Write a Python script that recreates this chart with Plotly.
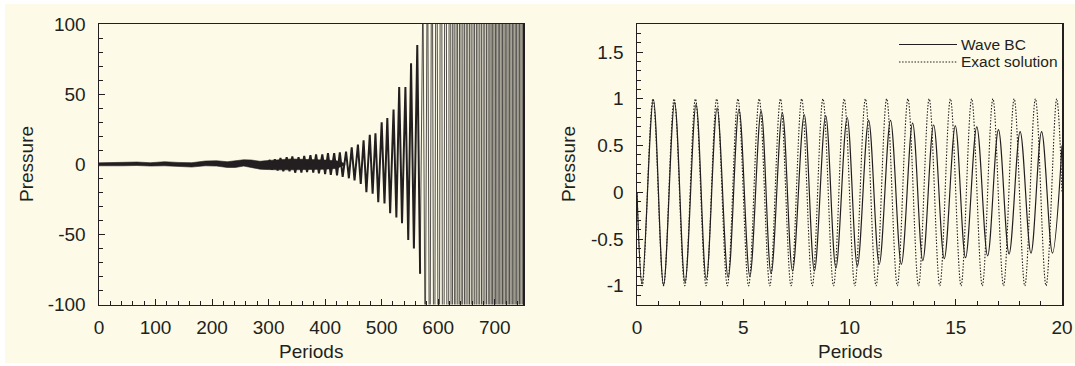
import plotly.graph_objects as go

INK = "#231f20"
CREAM = "#fdfbe8"
FONT = "Liberation Sans, Arial, Helvetica, sans-serif"
W, H = 1075, 366

# ---------------- Left panel: unstable boundary condition ----------------
# dark core band of the fast oscillation (upper / lower envelope)
band_periods = [0, 43, 67, 91, 116, 140, 164, 188, 208, 227, 241, 256, 270, 285, 294, 304,
                320, 340, 360, 380, 400, 420, 435]
band_upper = [1.0, 1.1, 1.6, 1.1, 1.8, 1.3, 1.1, 2.3, 2.5, 1.8, 2.5, 3.2, 3.0, 2.1, 2.5, 2.8,
              3.5, 3.8, 3.5, 3.5, 3.0, 2.5, 0.5]
band_lower = [-1.1, -1.1, -0.9, -1.3, -1.1, -1.6, -2.0, -1.1, -1.3, -2.3, -2.3, -1.3, -2.3, -3.5, -3.7, -3.5,
              -4.0, -4.0, -3.8, -3.8, -3.5, -3.0, -0.5]

# visible growing spikes
spike_periods = [298, 302, 306, 311, 316, 321, 326, 332, 337, 342, 347, 353, 358, 363, 368, 374, 379,
                 384, 389, 395, 400, 405, 410, 416, 421, 426, 431, 437, 442, 447, 452, 458, 463,
                 468, 473, 479, 484, 489, 494, 500, 505, 510, 515, 521, 526, 531, 536, 542, 547,
                 552, 557, 563, 568]
spike_values = [0, 3, -4, 3.5, -4.5, 4.5, -5, 5, -5, 5.5, -6, 5, -6, 6, -5.5, 6.5, -6,
                7, -6.5, 7, -7, 8, -7.5, 8, -8, 8.5, -9, 9, -10, 12, -11.5, 14, -14,
                17, -20, 21, -21, 22, -27, 30, -28, 33, -35, 39, -38, 55, -42, 55, -54,
                72, -60, 85, -78]

# blow-up region (values exceed the axis range and are clipped)
blowup_periods = [568, 573, 577, 581, 585, 589, 593, 597, 601, 605, 609, 613, 617, 621, 624, 627, 630,
                  633, 636, 639, 642, 645, 648, 651, 654, 657, 660, 663, 666, 669, 672, 675, 678,
                  681, 684, 687, 690, 692.5, 695, 697.5, 700, 702.5, 705, 707.5, 710, 712.5, 715,
                  717.5, 720, 722.5, 725, 727.5, 730, 732.5, 735, 737.5, 740, 742.5, 745, 747.5, 750]
blowup_values = [-78, 130, -150, 180, -210, 250, -300, 350, -400, 450, -500, 550, -600, 650, -700, 750, -800,
                 850, -900, 950, -1000, 1050, -1100, 1150, -1200, 1250, -1300, 1350, -1400, 1450, -1500, 1550, -1600,
                 1650, -1700, 1750, -1800, 1850, -1900, 1950, -2000, 2050, -2100, 2150, -2200, 2250, -2300,
                 2350, -2400, 2450, -2500, 2550, -2600, 2650, -2700, 2750, -2800, 2850, -2900, 2950, -3000]

# ---------------- Right panel: Wave BC vs exact ----------------
wave_t = [0, 0.24, 0.77, 1.25, 1.77, 2.26, 2.78, 3.26, 3.77, 4.29, 4.80, 5.31, 5.84, 6.31, 6.84,
          7.32, 7.87, 8.35, 8.88, 9.36, 9.89, 10.37, 10.90, 11.40, 11.93, 12.44, 12.97, 13.45, 13.96,
          14.46, 14.98, 15.46, 15.99, 16.50, 17.01, 17.51, 18.03, 18.54, 19.04, 19.55, 20.0]
wave_p = [0, -0.98, 0.99, -0.99, 0.96, -0.96, 0.94, -0.93, 0.90, -0.91, 0.89, -0.90, 0.87, -0.87, 0.85,
          -0.84, 0.83, -0.84, 0.82, -0.81, 0.80, -0.79, 0.77, -0.77, 0.77, -0.77, 0.74, -0.73, 0.72,
          -0.71, 0.71, -0.70, 0.70, -0.68, 0.67, -0.66, 0.65, -0.65, 0.65, -0.65, 0.5]

exact_t = [0, 0.25, 0.75, 1.25, 1.75, 2.25, 2.75, 3.25, 3.75, 4.25, 4.75, 5.25, 5.75, 6.25, 6.75,
           7.25, 7.75, 8.25, 8.75, 9.25, 9.75, 10.25, 10.75, 11.25, 11.75, 12.25, 12.75, 13.25, 13.75,
           14.25, 14.75, 15.25, 15.75, 16.25, 16.75, 17.25, 17.75, 18.25, 18.75, 19.25, 19.75, 20.0]
exact_p = [0, -1, 1, -1, 1, -1, 1, -1, 1, -1, 1, -1, 1, -1, 1,
           -1, 1, -1, 1, -1, 1, -1, 1, -1, 1, -1, 1, -1, 1,
           -1, 1, -1, 1, -1, 1, -1, 1, -1, 1, -1, 1, 0]

legend_names = ["Wave BC", "Exact solution"]

left_yticks = [-100, -50, 0, 50, 100]
right_yticks = [-1, -0.5, 0, 0.5, 1, 1.5]

DOT = "1.5px,1.6px"


def fmt(v):
    return "%g" % v


fig = go.Figure()

fig.add_trace(go.Scatter(
    x=band_periods + band_periods[::-1], y=band_upper + band_lower[::-1],
    fill="toself", fillcolor=INK, mode="lines", line=dict(color=INK, width=0.6),
    xaxis="x", yaxis="y", showlegend=False, hoverinfo="skip"))
fig.add_trace(go.Scatter(
    x=spike_periods, y=spike_values, mode="lines", line=dict(color=INK, width=2.0),
    xaxis="x", yaxis="y", showlegend=False))
fig.add_trace(go.Scatter(
    x=blowup_periods, y=blowup_values, mode="lines", line=dict(color=INK, width=0.8),
    xaxis="x", yaxis="y", showlegend=False))

fig.add_trace(go.Scatter(
    x=exact_t, y=exact_p, mode="lines",
    line=dict(color=INK, width=1.1, dash=DOT, shape="spline", smoothing=1.0),
    xaxis="x2", yaxis="y2", name=legend_names[1], showlegend=False))
fig.add_trace(go.Scatter(
    x=wave_t, y=wave_p, mode="lines", line=dict(color=INK, width=1.2, shape="spline", smoothing=1.0),
    xaxis="x2", yaxis="y2", name=legend_names[0], showlegend=False))

ydom = [1 - 304.5 / H, 1 - 24 / H]
common = dict(showline=True, mirror=True, linecolor=INK, linewidth=1.5, showgrid=False, zeroline=False,
              ticks="inside", ticklen=6, tickwidth=1, tickcolor=INK, automargin=False,
              tickfont=dict(family=FONT, size=19, color=INK))

fig.update_layout(
    template="none",
    width=W, height=H, autosize=False,
    margin=dict(l=0, r=0, t=0, b=0, pad=0, autoexpand=False),
    paper_bgcolor="white", plot_bgcolor=CREAM,
    xaxis=dict(domain=[99 / W, 523 / W], range=[0, 750], tickmode="linear", tick0=0, dtick=100,
               minor=dict(tickmode="linear", tick0=0, dtick=20, ticks="inside", ticklen=3.5, tickcolor=INK),
               ticklabelstandoff=5, anchor="y", **common),
    yaxis=dict(domain=ydom, range=[-100, 100], tickmode="array", tickvals=left_yticks,
               ticktext=[fmt(v) for v in left_yticks],
               minor=dict(tickmode="linear", tick0=0, dtick=10, ticks="inside", ticklen=3.5, tickcolor=INK),
               ticklabelstandoff=8, anchor="x", **common),
    xaxis2=dict(domain=[637 / W, 1062 / W], range=[0, 20], tickmode="linear", tick0=0, dtick=5,
                minor=dict(tickmode="linear", tick0=0, dtick=1, ticks="inside", ticklen=3.5, tickcolor=INK),
                ticklabelstandoff=5, anchor="y2", **common),
    yaxis2=dict(domain=ydom, range=[-1.2, 1.8], tickmode="array", tickvals=right_yticks,
                ticktext=[fmt(v) for v in right_yticks],
                minor=dict(tickmode="linear", tick0=0, dtick=0.1, ticks="inside", ticklen=3.5, tickcolor=INK),
                ticklabelstandoff=8, anchor="x2", **common),
    shapes=[
        dict(type="rect", xref="paper", yref="paper", x0=5 / W, x1=1.0, y0=1 - 363 / H, y1=1 - 4 / H,
             fillcolor=CREAM, line=dict(width=0), layer="below"),
        dict(type="line", xref="paper", yref="paper", x0=899 / W, x1=957 / W, y0=1 - 44.5 / H, y1=1 - 44.5 / H,
             line=dict(color=INK, width=1.2)),
        dict(type="line", xref="paper", yref="paper", x0=899 / W, x1=957 / W, y0=1 - 62 / H, y1=1 - 62 / H,
             line=dict(color=INK, width=1.1, dash=DOT)),
    ],
    annotations=[
        dict(text="Pressure", xref="paper", yref="paper", x=26 / W, y=1 - 164 / H, textangle=-90,
             showarrow=False, font=dict(family=FONT, size=19, color=INK), xanchor="center", yanchor="middle"),
        dict(text="Pressure", xref="paper", yref="paper", x=568 / W, y=1 - 164 / H, textangle=-90,
             showarrow=False, font=dict(family=FONT, size=19, color=INK), xanchor="center", yanchor="middle"),
        dict(text="Periods", xref="paper", yref="paper", x=311 / W, y=1 - 351 / H,
             showarrow=False, font=dict(family=FONT, size=19, color=INK), xanchor="center", yanchor="middle"),
        dict(text="Periods", xref="paper", yref="paper", x=849.5 / W, y=1 - 351 / H,
             showarrow=False, font=dict(family=FONT, size=19, color=INK), xanchor="center", yanchor="middle"),
        dict(text=legend_names[0], xref="paper", yref="paper", x=959 / W, y=1 - 44.5 / H,
             showarrow=False, font=dict(family=FONT, size=15.5, color=INK), xanchor="left", yanchor="middle"),
        dict(text=legend_names[1], xref="paper", yref="paper", x=959 / W, y=1 - 62 / H,
             showarrow=False, font=dict(family=FONT, size=15.5, color=INK), xanchor="left", yanchor="middle"),
    ],
)

fig.write_html(
    "out.html",
    config={"displayModeBar": False, "staticPlot": True},
    post_script=("document.documentElement.style.margin='0';document.body.style.margin='0';"
                 "document.body.style.overflow='hidden';document.documentElement.style.overflow='hidden';"),
)
